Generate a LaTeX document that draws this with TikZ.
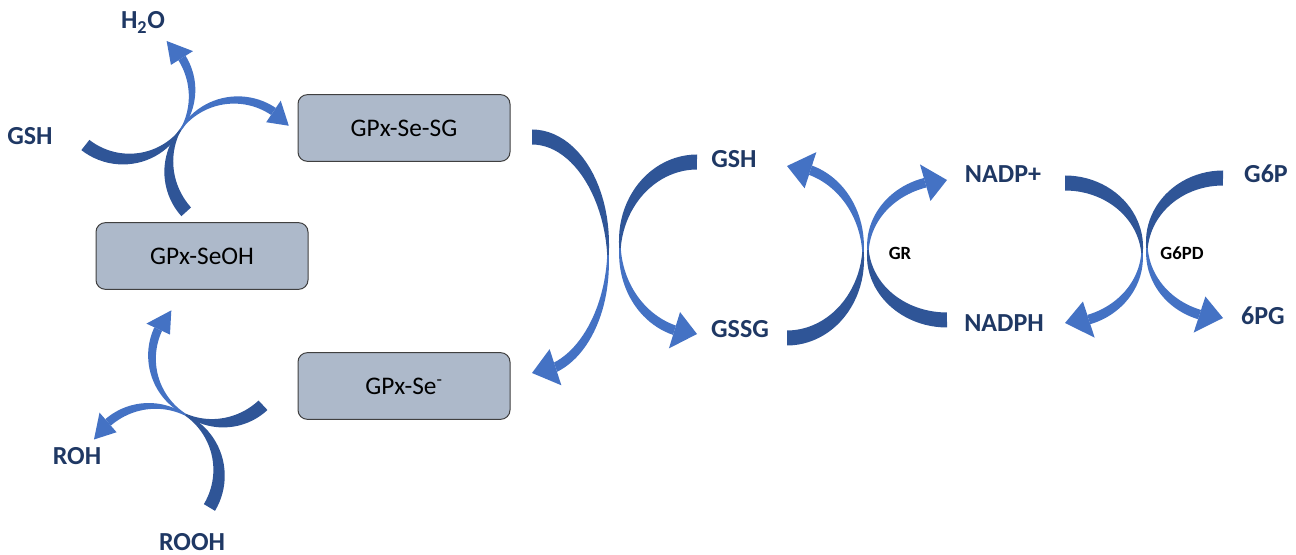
\documentclass[tikz,border=0pt]{standalone}
\usepackage{fontspec}
\setmainfont{Carlito}

\definecolor{textnavy}{RGB}{31,56,100}
\definecolor{taildark}{RGB}{47,85,151}
\definecolor{headlight}{RGB}{68,114,196}
\definecolor{boxfill}{RGB}{173,185,202}
\definecolor{boxline}{RGB}{64,64,64}

\tikzstyle{species} = [font=\fontsize{19.5}{21}\selectfont\bfseries, text=textnavy, anchor=base, inner sep=0pt]
\tikzstyle{enzyme} = [font=\fontsize{14}{16}\selectfont\bfseries, anchor=base, inner sep=0pt]
\tikzstyle{state} = [draw=boxline, line width=0.75pt, fill=boxfill, rounded corners=7pt, minimum width=159pt, minimum height=50pt, font=\fontsize{19}{21}\selectfont]

% widths of the tapered arrows: tail width, half width of the head
\newcommand{\thinw}{1.5}
\newcommand{\arrowsizes}[2]{\def\tailw{#1}\def\headhw{#2}}
% tapered curved arrow: cx, cy, a, b, tail angle, thin angle, shaft end angle, tip angle
\newcommand{\cyclearrow}[8]{%
  \pgfmathsetmacro\shaftw{0.65*\tailw}
  \fill[taildark]
    plot[domain=0:1,variable=\s,samples=25]
      ({#1+(#3+(\thinw+(\tailw-\thinw)*sin(90*(1-\s)))/2)*cos(#6+(#5-#6)*(1-\s))},
       {#2+(#4+(\thinw+(\tailw-\thinw)*sin(90*(1-\s)))/2)*sin(#6+(#5-#6)*(1-\s))})
    -- plot[domain=0:1,variable=\s,samples=25]
      ({#1+(#3-(\thinw+(\tailw-\thinw)*sin(90*\s))/2)*cos(#6+(#5-#6)*\s)},
       {#2+(#4-(\thinw+(\tailw-\thinw)*sin(90*\s))/2)*sin(#6+(#5-#6)*\s)})
    -- cycle;
  \fill[headlight]
    plot[domain=0:1,variable=\s,samples=25]
      ({#1+(#3+(\thinw+(\shaftw-\thinw)*sin(90*\s))/2)*cos(#6+(#7-#6)*\s)},
       {#2+(#4+(\thinw+(\shaftw-\thinw)*sin(90*\s))/2)*sin(#6+(#7-#6)*\s)})
    -- plot[domain=0:1,variable=\s,samples=25]
      ({#1+(#3-(\thinw+(\shaftw-\thinw)*sin(90*(1-\s)))/2)*cos(#6+(#7-#6)*(1-\s))},
       {#2+(#4-(\thinw+(\shaftw-\thinw)*sin(90*(1-\s)))/2)*sin(#6+(#7-#6)*(1-\s))})
    -- cycle;
  \fill[headlight] ({#1+(#3+\headhw)*cos(#7)},{#2+(#4+\headhw)*sin(#7)})
    -- ({#1+#3*cos(#8)},{#2+#4*sin(#8)})
    -- ({#1+(#3-\headhw)*cos(#7)},{#2+(#4-\headhw)*sin(#7)}) -- cycle;
}

\begin{document}
\begin{tikzpicture}[x=0.75pt,y=-0.75pt]
    \useasboundingbox (0,0) rectangle (1296,555);

    %enzyme states
    \foreach \nodename/\x/\y/\txt in {
      sesg/404/128/GPx-Se-SG,
      seoh/202/256/GPx-SeOH,
      se/404/386/GPx-Se\textsuperscript{-}}
    {
      \node[state] (\nodename) at (\x,\y) {\txt};
    }

    %species
    \foreach \nodename/\x/\y/\txt in {
      water/143/29/H\textsubscript{2}O,
      gshin/30/145/GSH,
      roh/77/465/ROH,
      rooh/192/551/ROOH,
      gsh/734/168/GSH,
      gssg/740/338/GSSG,
      nadpplus/1003/183/NADP+,
      nadph/1004/332/NADPH,
      gsixp/1266/183/G6P,
      sixpg/1263/325/6PG}
    {
      \node[species] (\nodename) at (\x,\y) {\txt};
    }

    \node[enzyme] (gr) at (900,260) {GR};
    \node[enzyme] (gsixpd) at (1182,260) {G6PD};

    %peroxidase cycle arrows
    \arrowsizes{13}{13}
    \foreach \cx/\cy/\a/\b/\from/\thin/\to/\tip in {
      126/93/66/66/128/34/-32/-52,
      236/167/67/67/138/214/304/322,
      218/357/66/66/47/120/205/225,
      152/473/67/67/31/-60/-131/-150}
    {
      \cyclearrow{\cx}{\cy}{\a}{\b}{\from}{\thin}{\to}{\tip}
    }

    %recycling arrows
    \arrowsizes{15}{19}
    \foreach \cx/\cy/\a/\b/\from/\thin/\to/\tip in {
      532/255/76/118/270/360/432/450,
      697/248/77/86/270/180/107/90,
      787/252/76/86/90/0/-72/-90,
      947/250/79/70/90/180/254/270,
      1065/253/77/70/-90/0/72/90,
      1223/248/76/70/270/180/108/90}
    {
      \cyclearrow{\cx}{\cy}{\a}{\b}{\from}{\thin}{\to}{\tip}
    }

\end{tikzpicture}
\end{document}
